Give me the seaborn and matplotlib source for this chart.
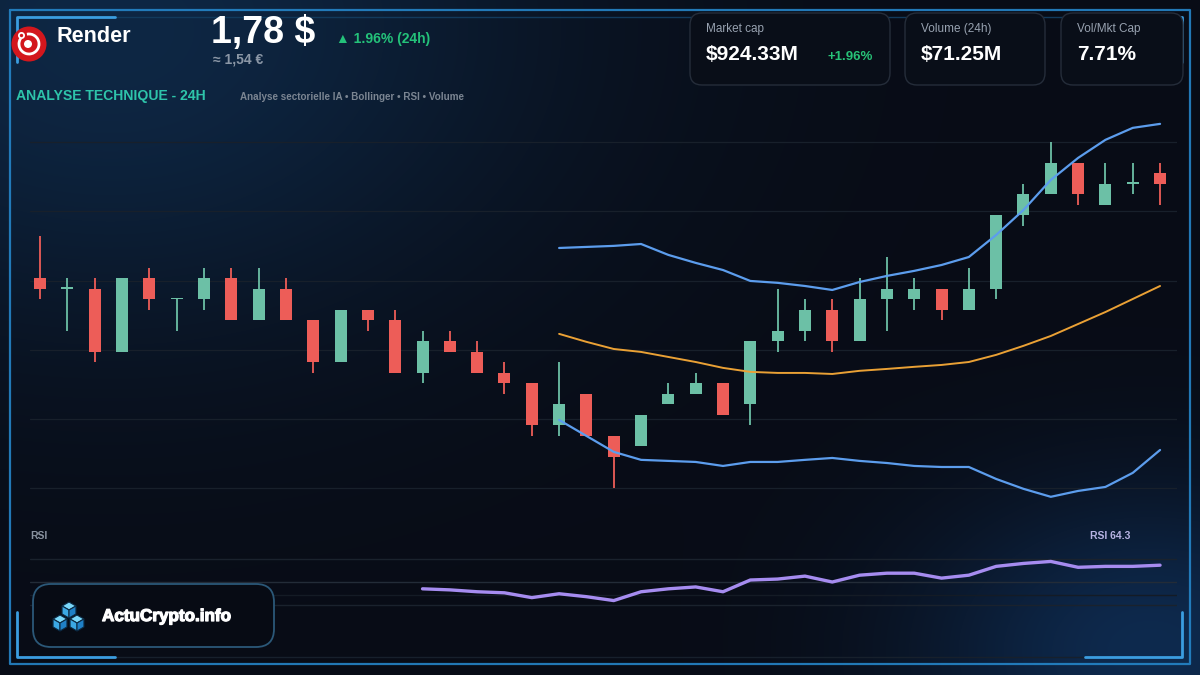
import numpy as np
import pandas as pd
import matplotlib
matplotlib.use("Agg")
import matplotlib.pyplot as plt
from matplotlib.patches import FancyBboxPatch, Circle, Arc, Polygon
from matplotlib.lines import Line2D
import matplotlib.patheffects as pe
import seaborn as sns

# ---------------- data ----------------
opens = [1.735, 1.730, 1.730, 1.700, 1.735, 1.725, 1.725, 1.735, 1.715, 1.730,
         1.715, 1.695, 1.720, 1.715, 1.690, 1.705, 1.700, 1.690, 1.685, 1.665,
         1.680, 1.660, 1.655, 1.675, 1.680, 1.685, 1.675, 1.705, 1.710, 1.720,
         1.705, 1.725, 1.725, 1.730, 1.720, 1.730, 1.765, 1.775, 1.790, 1.770,
         1.780, 1.785]
closes = [1.730, 1.730, 1.700, 1.735, 1.725, 1.725, 1.735, 1.715, 1.730, 1.715,
          1.695, 1.720, 1.715, 1.690, 1.705, 1.700, 1.690, 1.685, 1.665, 1.675,
          1.660, 1.650, 1.670, 1.680, 1.685, 1.670, 1.705, 1.710, 1.720, 1.705,
          1.725, 1.730, 1.730, 1.720, 1.730, 1.765, 1.775, 1.790, 1.775, 1.780,
          1.780, 1.780]
highs = [1.755, 1.735, 1.735, 1.735, 1.740, 1.725, 1.740, 1.740, 1.740, 1.735,
         1.715, 1.720, 1.720, 1.720, 1.710, 1.710, 1.705, 1.695, 1.685, 1.695,
         1.680, 1.660, 1.670, 1.685, 1.690, 1.685, 1.705, 1.730, 1.725, 1.725,
         1.735, 1.745, 1.735, 1.730, 1.740, 1.765, 1.780, 1.800, 1.790, 1.790,
         1.790, 1.790]
lows = [1.725, 1.710, 1.695, 1.700, 1.720, 1.710, 1.720, 1.715, 1.715, 1.715,
        1.690, 1.695, 1.710, 1.690, 1.685, 1.700, 1.690, 1.680, 1.660, 1.660,
        1.660, 1.635, 1.655, 1.675, 1.680, 1.670, 1.665, 1.700, 1.705, 1.700,
        1.705, 1.710, 1.720, 1.715, 1.720, 1.725, 1.760, 1.775, 1.770, 1.770,
        1.775, 1.770]

bb_start = 19
bb_upper = [1.7495, 1.7500, 1.7505, 1.7514, 1.7462, 1.7424, 1.7390, 1.7338,
            1.7329, 1.7314, 1.7295, 1.7333, 1.7362, 1.7386, 1.7414, 1.7452,
            1.7557, 1.7676, 1.7819, 1.7924, 1.8010, 1.8067, 1.8086]
bb_mid = [1.7086, 1.7048, 1.7014, 1.7000, 1.6976, 1.6952, 1.6924, 1.6905,
          1.6900, 1.6900, 1.6895, 1.6910, 1.6919, 1.6929, 1.6938, 1.6952,
          1.6986, 1.7029, 1.7076, 1.7133, 1.7190, 1.7252, 1.7314]
bb_lower = [1.6676, 1.6600, 1.6524, 1.6486, 1.6481, 1.6476, 1.6457, 1.6476,
            1.6476, 1.6486, 1.6495, 1.6481, 1.6471, 1.6457, 1.6452, 1.6452,
            1.6395, 1.6348, 1.6310, 1.6338, 1.6357, 1.6424, 1.6533]

rsi_start = 14
rsi_values = [44.2, 43.3, 41.7, 40.8, 36.7, 40.0, 37.5, 34.2, 41.7, 44.2,
              45.8, 41.7, 51.7, 52.5, 55.0, 50.0, 55.8, 57.5, 57.5, 53.3,
              55.8, 63.3, 65.8, 67.5, 62.5, 63.3, 63.3, 64.3]

price_grid = [1.800, 1.767, 1.734, 1.701, 1.668, 1.635]
rsi_grid = [70, 50, 39, 30]

coin_name = "Render"
price_text = "1,78 $"
change_text = "\u25b2 1.96% (24h)"
eur_text = "\u2248 1,54 \u20ac"
section_title = "ANALYSE TECHNIQUE - 24H"
section_sub = "Analyse sectorielle IA \u2022 Bollinger \u2022 RSI \u2022 Volume"
card_labels = ["Market cap", "Volume (24h)", "Vol/Mkt Cap"]
card_values = ["$924.33M", "$71.25M", "7.71%"]
card_extra = "+1.96%"
rsi_label = "RSI 64.3"
brand = "ActuCrypto.info"

# ---------------- style ----------------
sns.set_theme(style="dark")
plt.rcParams['font.family'] = ['Liberation Sans', 'DejaVu Sans']

UP = "#6cc0a6"
DOWN = "#ed5d58"
BAND = "#5c9ded"
MID = "#eaa135"
RSI_C = "#a68cf0"
FRAME = "#2585c8"
BRACKET = "#3b9de0"

W, H = 1200, 675
fig = plt.figure(figsize=(12, 6.75), dpi=100)

# background with soft glows
yy, xx = np.mgrid[0:H, 0:W]
base = np.array([8, 12, 22]) / 255.0
g1 = np.exp(-(((xx - 110) / 430.0) ** 2 + ((yy - 30) / 300.0) ** 2))
g2 = np.exp(-(((xx - 1150) / 230.0) ** 2 + ((yy - 650) / 160.0) ** 2))
a1 = np.array([6, 27, 46]) / 255.0
a2 = np.array([6, 30, 56]) / 255.0
img = base + g1[..., None] * a1 + g2[..., None] * a2
img = np.clip(img, 0, 1)
bg = fig.add_axes([0, 0, 1, 1], zorder=-10)
bg.imshow(img, aspect='auto', extent=(0, 1, 0, 1))
bg.axis('off')

def fx(px):
    return px / W

def fy(py):
    return 1 - py / H

# ---------------- price axes ----------------
ax = fig.add_axes([fx(30), fy(505), (1177 - 30) / W, (505 - 118) / H])
ax.set_facecolor('none')
n = len(opens)
xi = np.arange(n)
o = np.array(opens); c = np.array(closes)
hi = np.array(highs); lo = np.array(lows)
up = c >= o
cols = np.where(up, UP, DOWN)
for lvl in price_grid:
    ax.axhline(lvl, color="#18202b", lw=0.9, zorder=0)
ax.vlines(xi, lo, hi, colors=cols, lw=1.3, zorder=2)
body_bottom = np.minimum(o, c)
body_h = np.maximum(np.abs(c - o), 0.0008)
ax.bar(xi, body_h, bottom=body_bottom, width=0.44, color=cols, zorder=3, linewidth=0)

df_bb = pd.DataFrame({
    'idx': np.arange(bb_start, bb_start + len(bb_upper)),
    'upper': bb_upper, 'mid': bb_mid, 'lower': bb_lower})
sns.lineplot(data=df_bb, x='idx', y='upper', ax=ax, color=BAND, lw=1.6, zorder=4)
sns.lineplot(data=df_bb, x='idx', y='lower', ax=ax, color=BAND, lw=1.6, zorder=4)
sns.lineplot(data=df_bb, x='idx', y='mid', ax=ax, color=MID, lw=1.4, zorder=4)

ax.set_xlim(-0.37, 41.62)
ax.set_ylim(1.6271, 1.8114)
ax.set_xticks([]); ax.set_yticks([])
ax.set_xlabel(''); ax.set_ylabel('')
ax.grid(False)
for s in ax.spines.values():
    s.set_visible(False)

# ---------------- RSI axes ----------------
rax = fig.add_axes([fx(30), fy(615), (1177 - 30) / W, (615 - 548) / H])
rax.set_facecolor('none')
grid_cols = ["#1a222d", "#232c38", "#141b25", "#1a222d"]
for lvl, gc in zip(rsi_grid, grid_cols):
    rax.axhline(lvl, color=gc, lw=1.0, zorder=0)
df_rsi = pd.DataFrame({'idx': np.arange(rsi_start, rsi_start + len(rsi_values)),
                       'rsi': rsi_values})
sns.lineplot(data=df_rsi, x='idx', y='rsi', ax=rax, color=RSI_C, lw=2.4, zorder=3)
rax.set_xlim(-0.37, 41.62)
rax.set_ylim(21.91, 78.94)
rax.set_xticks([]); rax.set_yticks([])
rax.set_xlabel(''); rax.set_ylabel('')
rax.grid(False)
for s in rax.spines.values():
    s.set_visible(False)

# ---------------- overlay (pixel coords) ----------------
ov = fig.add_axes([0, 0, 1, 1], zorder=20)
ov.set_xlim(0, W); ov.set_ylim(H, 0)
ov.axis('off')
ov.patch.set_alpha(0)

# faint bottom line
ov.add_line(Line2D([25, 1177], [657, 657], color="#17202c", lw=1))

# outer frame
ov.add_line(Line2D([10, 1190, 1190, 10, 10], [10, 10, 664, 664, 10], color=FRAME, lw=1.6, alpha=0.9))
ov.add_line(Line2D([115, 1085], [17, 17], color="#123a5c", lw=1.0))
# corner brackets
bl = 2.0
ov.add_line(Line2D([115, 17, 17], [17, 17, 62], color=BRACKET, lw=bl))
ov.add_line(Line2D([1085, 1182, 1182], [17, 17, 62], color=BRACKET, lw=bl))
ov.add_line(Line2D([17, 17, 115], [612, 657, 657], color=BRACKET, lw=bl))
ov.add_line(Line2D([1182, 1182, 1085], [612, 657, 657], color=BRACKET, lw=bl))

# Render logo
ov.add_patch(Circle((29, 44), 17.5, fc="#d3171d", ec="none", zorder=5))
ov.add_patch(Arc((29, 44), 20, 20, theta1=258, theta2=214, color="white", lw=2.0, zorder=6))
ov.add_patch(Circle((28, 44), 4.0, fc="white", ec="none", zorder=6))
ov.add_patch(Circle((21.5, 35.5), 2.6, fc="none", ec="white", lw=1.3, zorder=6))

tk = dict(va='baseline', ha='left')
ov.text(57, 42, coin_name, fontsize=15.6, fontweight='bold', color='white', **tk)
ov.text(211, 43, price_text, fontsize=27, fontweight='bold', color='white', **tk)
ov.text(336, 43, change_text, fontsize=10, fontweight='bold', color='#24c27a', **tk)
ov.text(213, 63, eur_text, fontsize=10, fontweight='bold', color='#8b97a6', **tk)
ov.text(16, 100, section_title, fontsize=10.1, fontweight='bold', color='#2ec4aa', **tk)
ov.text(240, 100, section_sub, fontsize=7.1, fontweight='bold', color='#7b8592', **tk)

# cards
cards = [(690, 200), (905, 140), (1061, 122)]
for (cx, cw), lab, val in zip(cards, card_labels, card_values):
    ov.add_patch(FancyBboxPatch((cx, 13), cw, 72,
                                boxstyle="round,pad=0,rounding_size=12",
                                fc="#090e18", ec="#252d3a", lw=1.0, zorder=3))
    ov.text(cx + 16, 32, lab, fontsize=8.5, color='#98a2b0', zorder=4, **tk)
    ov.text(cx + 16, 60, val, fontsize=15, fontweight='bold', color='white', zorder=4, **tk)
ov.text(827, 60, card_extra, fontsize=9.5, fontweight='bold', color='#27c277', zorder=4, **tk)

# RSI labels
ov.text(30, 539, "RSI", fontsize=7.5, fontweight='bold', color='#8a93a0', **tk)
ov.text(1090, 539, rsi_label, fontsize=7.5, fontweight='bold', color='#b7b3e3', **tk)

# brand box
ov.add_patch(FancyBboxPatch((33, 584), 241, 63,
                            boxstyle="round,pad=0,rounding_size=18",
                            fc="#070b14", ec="#2b5878", lw=1.3, zorder=8))

def cube(cx, cy, s):
    k = 0.87 * s
    top = [(cx, cy - s), (cx + k, cy - s / 2), (cx, cy), (cx - k, cy - s / 2)]
    left = [(cx - k, cy - s / 2), (cx, cy), (cx, cy + s), (cx - k, cy + s / 2)]
    right = [(cx, cy), (cx + k, cy - s / 2), (cx + k, cy + s / 2), (cx, cy + s)]
    for pts, col in ((top, "#7ad8fa"), (left, "#3ba8e4"), (right, "#1f80c6")):
        ov.add_patch(Polygon(pts, closed=True, fc=col, ec="#0b2a44", lw=0.8, zorder=9))

cube(69, 610, 8)
cube(60, 623, 8)
cube(77, 623, 8)
ov.text(102, 621, brand, fontsize=12.3, fontweight='heavy', color='white', zorder=9,
        path_effects=[pe.withStroke(linewidth=0.9, foreground='white')], **tk)

fig.savefig("out.png", dpi=100, facecolor=fig.get_facecolor())
